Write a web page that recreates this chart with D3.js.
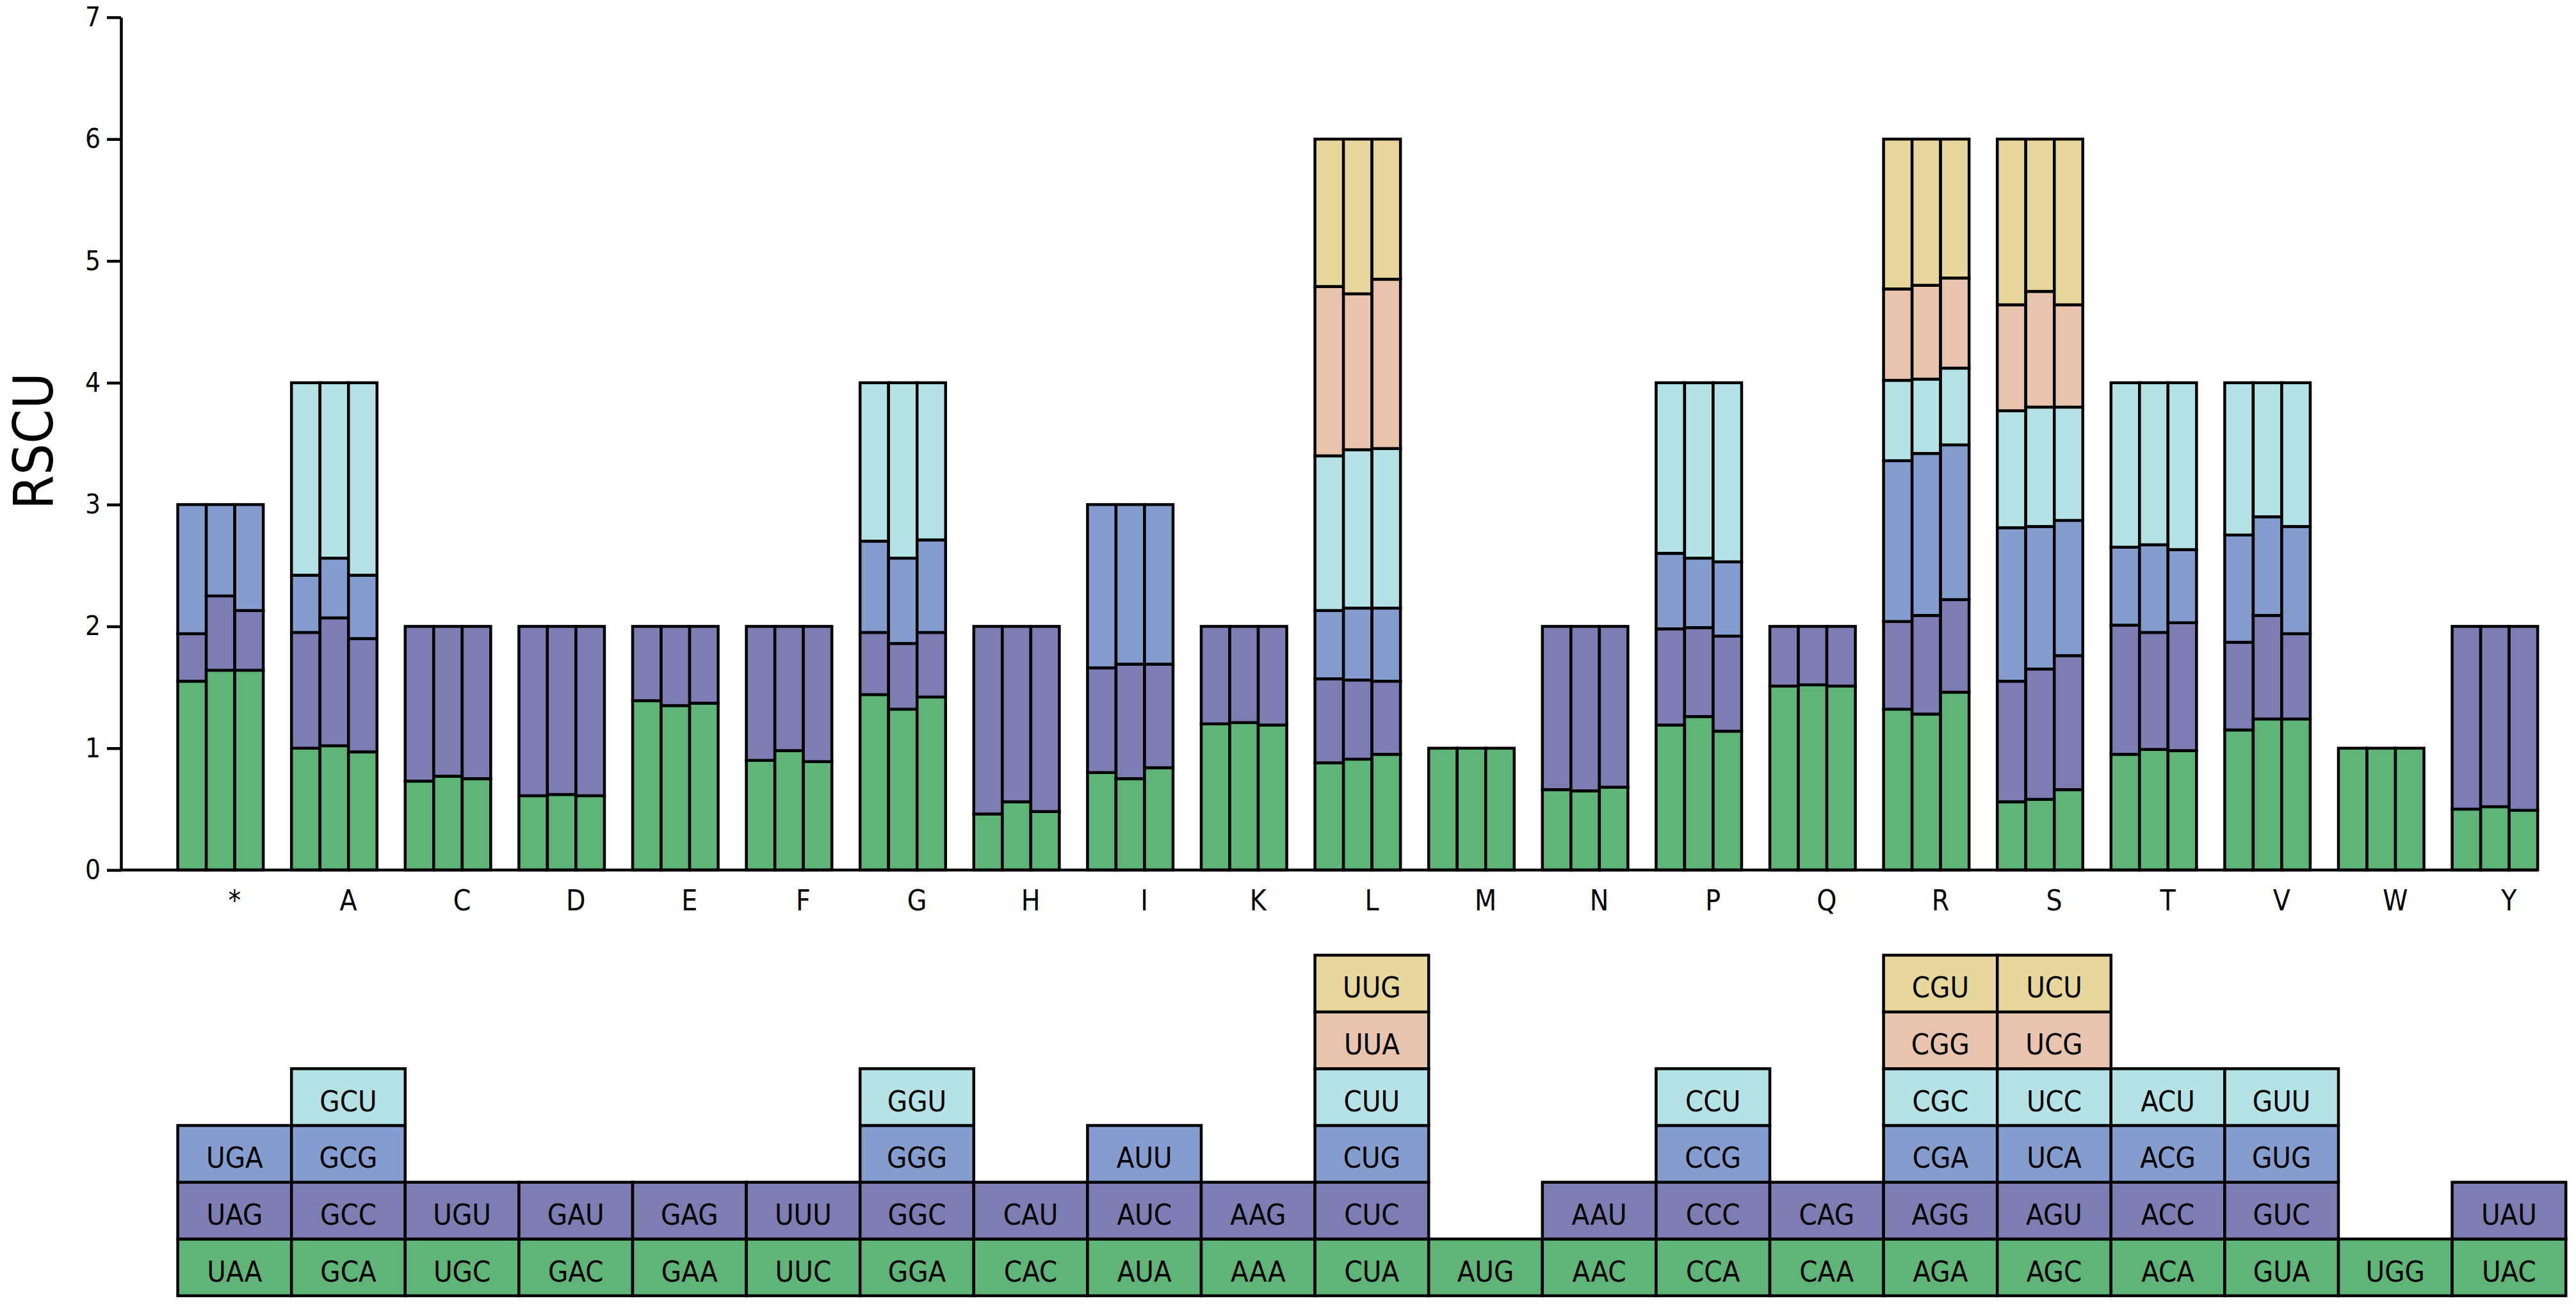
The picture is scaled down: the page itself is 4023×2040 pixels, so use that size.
<!DOCTYPE html>
<html>
<head>
<meta charset="utf-8">
<script src="https://cdn.jsdelivr.net/npm/d3@7"></script>
<style>
  body { margin: 0; background: #fff; }
  text { font-family: "DejaVu Sans Condensed", "DejaVu Sans", sans-serif; fill: #000; }
</style>
</head>
<body>
<svg id="chart" width="4023" height="2040"></svg>
<script>
// amino acids (one letter code), '*' = stop
var aminoAcids = ['*', 'A', 'C', 'D', 'E', 'F', 'G', 'H', 'I', 'K', 'L',
                  'M', 'N', 'P', 'Q', 'R', 'S', 'T', 'V', 'W', 'Y'];

// synonymous codons, stacked from the bottom up
var codons = [
    ['UAA', 'UAG', 'UGA'],
    ['GCA', 'GCC', 'GCG', 'GCU'],
    ['UGC', 'UGU'],
    ['GAC', 'GAU'],
    ['GAA', 'GAG'],
    ['UUC', 'UUU'],
    ['GGA', 'GGC', 'GGG', 'GGU'],
    ['CAC', 'CAU'],
    ['AUA', 'AUC', 'AUU'],
    ['AAA', 'AAG'],
    ['CUA', 'CUC', 'CUG', 'CUU', 'UUA', 'UUG'],
    ['AUG'],
    ['AAC', 'AAU'],
    ['CCA', 'CCC', 'CCG', 'CCU'],
    ['CAA', 'CAG'],
    ['AGA', 'AGG', 'CGA', 'CGC', 'CGG', 'CGU'],
    ['AGC', 'AGU', 'UCA', 'UCC', 'UCG', 'UCU'],
    ['ACA', 'ACC', 'ACG', 'ACU'],
    ['GUA', 'GUC', 'GUG', 'GUU'],
    ['UGG'],
    ['UAC', 'UAU']
];

// RSCU per codon, same order as codons, one array per sample
var rscuSample1 = [
    [1.55, 0.39, 1.06],
    [1.00, 0.95, 0.47, 1.58],
    [0.73, 1.27],
    [0.61, 1.39],
    [1.39, 0.61],
    [0.90, 1.10],
    [1.44, 0.51, 0.75, 1.30],
    [0.46, 1.54],
    [0.80, 0.86, 1.34],
    [1.20, 0.80],
    [0.88, 0.69, 0.56, 1.27, 1.39, 1.21],
    [1.00],
    [0.66, 1.34],
    [1.19, 0.79, 0.62, 1.40],
    [1.51, 0.49],
    [1.32, 0.72, 1.32, 0.66, 0.75, 1.23],
    [0.56, 0.99, 1.26, 0.96, 0.87, 1.36],
    [0.95, 1.06, 0.64, 1.35],
    [1.15, 0.72, 0.88, 1.25],
    [1.00],
    [0.50, 1.50]
];
var rscuSample2 = [
    [1.64, 0.61, 0.75],
    [1.02, 1.05, 0.49, 1.44],
    [0.77, 1.23],
    [0.62, 1.38],
    [1.35, 0.65],
    [0.98, 1.02],
    [1.32, 0.54, 0.70, 1.44],
    [0.56, 1.44],
    [0.75, 0.94, 1.31],
    [1.21, 0.79],
    [0.91, 0.65, 0.59, 1.30, 1.28, 1.27],
    [1.00],
    [0.65, 1.35],
    [1.26, 0.73, 0.57, 1.44],
    [1.52, 0.48],
    [1.28, 0.81, 1.33, 0.61, 0.77, 1.20],
    [0.58, 1.07, 1.17, 0.98, 0.95, 1.25],
    [0.99, 0.96, 0.72, 1.33],
    [1.24, 0.85, 0.81, 1.10],
    [1.00],
    [0.52, 1.48]
];
var rscuSample3 = [
    [1.64, 0.49, 0.87],
    [0.97, 0.93, 0.52, 1.58],
    [0.75, 1.25],
    [0.61, 1.39],
    [1.37, 0.63],
    [0.89, 1.11],
    [1.42, 0.53, 0.76, 1.29],
    [0.48, 1.52],
    [0.84, 0.85, 1.31],
    [1.19, 0.81],
    [0.95, 0.60, 0.60, 1.31, 1.39, 1.15],
    [1.00],
    [0.68, 1.32],
    [1.14, 0.78, 0.61, 1.47],
    [1.51, 0.49],
    [1.46, 0.76, 1.27, 0.63, 0.74, 1.14],
    [0.66, 1.10, 1.11, 0.93, 0.84, 1.36],
    [0.98, 1.05, 0.60, 1.37],
    [1.24, 0.70, 0.88, 1.18],
    [1.00],
    [0.49, 1.51]
];
var samples = [rscuSample1, rscuSample2, rscuSample3];
var yTicks = [0, 1, 2, 3, 4, 5, 6, 7];

// colour of the k-th codon in a stack
var stackColors = ['#5fb577', '#7d7db3', '#849dce', '#b5e3e5', '#e8c4ae', '#e8d79c'];

var svg = d3.select('#chart');
svg.append('rect').attr('width', 4023).attr('height', 2040).attr('fill', '#fff');

var axisX = 189, plotTop = 27, plotBottom = 1359;
var colLeft = 277.6, colWidth = 177.6;

var x = d3.scaleBand()
    .domain(aminoAcids)
    .range([colLeft, colLeft + colWidth * aminoAcids.length])
    .padding(0);

// the three samples sit in the left 3/4 of each column
var xSample = d3.scaleBand()
    .domain([0, 1, 2])
    .range([0, colWidth * 0.752]);

var y = d3.scaleLinear()
    .domain([0, 7])
    .range([plotBottom, plotTop]);

// ---- stacked bars ----
var segments = [];
aminoAcids.forEach(function (aa, i) {
    samples.forEach(function (sample, s) {
        var base = 0;
        sample[i].forEach(function (v, k) {
            segments.push({ aa: aa, sample: s, k: k, y0: base, y1: base + v });
            base += v;
        });
    });
});

svg.append('g')
    .selectAll('rect.seg')
    .data(segments)
    .enter()
    .append('rect')
    .attr('class', 'seg')
    .attr('x', function (d) { return x(d.aa) + xSample(d.sample); })
    .attr('y', function (d) { return y(d.y1); })
    .attr('width', xSample.bandwidth())
    .attr('height', function (d) { return y(d.y0) - y(d.y1); })
    .attr('fill', function (d) { return stackColors[d.k]; })
    .attr('stroke', '#000')
    .attr('stroke-width', 4.5);

// ---- y axis ----
var yAxis = svg.append('g')
    .attr('transform', 'translate(' + axisX + ',0)')
    .call(d3.axisLeft(y)
        .tickValues(yTicks)
        .tickFormat(d3.format('d'))
        .tickSize(22)
        .tickSizeOuter(0)
        .tickPadding(10));
yAxis.select('.domain').attr('stroke-width', 4.5);
yAxis.selectAll('.tick line').attr('stroke-width', 4.5);
yAxis.selectAll('.tick text')
    .attr('font-size', 42)
    .attr('font-family', '"DejaVu Sans Condensed", "DejaVu Sans", sans-serif');

svg.append('text')
    .attr('transform', 'translate(82,689) rotate(-90)')
    .attr('text-anchor', 'middle')
    .attr('font-size', 86)
    .text('RSCU');

// ---- x axis: a bare line ending at the last bar, labels on column centres ----
var lastAA = aminoAcids[aminoAcids.length - 1];
svg.append('line')
    .attr('x1', axisX - 2)
    .attr('x2', x(lastAA) + xSample(2) + xSample.bandwidth())
    .attr('y1', plotBottom)
    .attr('y2', plotBottom)
    .attr('stroke', '#000')
    .attr('stroke-width', 4.5);

var xAxis = svg.append('g')
    .attr('transform', 'translate(0,' + plotBottom + ')')
    .call(d3.axisBottom(x).tickSize(0).tickPadding(32));
xAxis.select('.domain').remove();
xAxis.selectAll('.tick text')
    .attr('font-size', 44)
    .attr('font-family', '"DejaVu Sans", sans-serif');

// ---- codon table below ----
var row = d3.scaleLinear()
    .domain([0, 6])
    .range([2024, 1492]);
var rowH = row(0) - row(1);

var cells = [];
aminoAcids.forEach(function (aa, i) {
    codons[i].forEach(function (c, k) {
        cells.push({ aa: aa, k: k, codon: c });
    });
});

var cell = svg.append('g')
    .selectAll('g.cell')
    .data(cells)
    .enter()
    .append('g')
    .attr('class', 'cell')
    .attr('transform', function (d) {
        return 'translate(' + x(d.aa) + ',' + row(d.k + 1) + ')';
    });

cell.append('rect')
    .attr('width', x.bandwidth())
    .attr('height', rowH)
    .attr('fill', function (d) { return stackColors[d.k]; })
    .attr('stroke', '#000')
    .attr('stroke-width', 4.5);

cell.append('text')
    .attr('x', x.bandwidth() / 2)
    .attr('y', rowH / 2 + 22)
    .attr('text-anchor', 'middle')
    .attr('font-size', 45)
    .text(function (d) { return d.codon; });
</script>
</body>
</html>
